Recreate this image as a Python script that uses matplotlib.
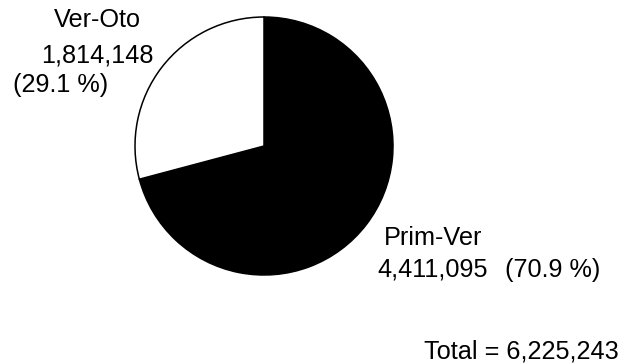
import matplotlib.pyplot as plt

# season counts
labels = ['Prim-Ver', 'Ver-Oto']
counts = [4411095, 1814148]
colors = ['black', 'white']
total = sum(counts)
pct = [100 * c / total for c in counts]

W, H = 626, 364
plt.rcParams['font.family'] = ['Liberation Sans', 'DejaVu Sans']
fs = 18.2

fig = plt.figure(figsize=(W / 100, H / 100), dpi=100)

# pie axes: centre (264,146) px, radius 129 px
cx, cy, r = 264, 146, 129
ax = fig.add_axes([(cx - r) / W, (H - cy - r) / H, 2 * r / W, 2 * r / H])
ax.pie(counts, colors=colors, startangle=90, counterclock=False,
       wedgeprops=dict(edgecolor='black', linewidth=1.1))
ax.set_xlim(-1.0, 1.0)
ax.set_ylim(-1.0, 1.0)
ax.set_aspect('equal')
ax.axis('off')


def put(x, y, s, ha='left'):
    fig.text(x / W, 1 - y / H, s, ha=ha, va='baseline', fontsize=fs)


# Ver-Oto label
put(97.5, 27, labels[1], ha='center')
put(97.5, 62, f'{counts[1]:,}', ha='center')
put(13, 92, f'({pct[1]:.1f} %)')

# Prim-Ver label
put(384, 245, labels[0])
put(377, 277, f'{counts[0]:,}')
put(505, 277, f'({pct[0]:.1f} %)')

put(521, 358, f'Total = {total:,}', ha='center')

plt.savefig('out.png', dpi=100, facecolor='white')
